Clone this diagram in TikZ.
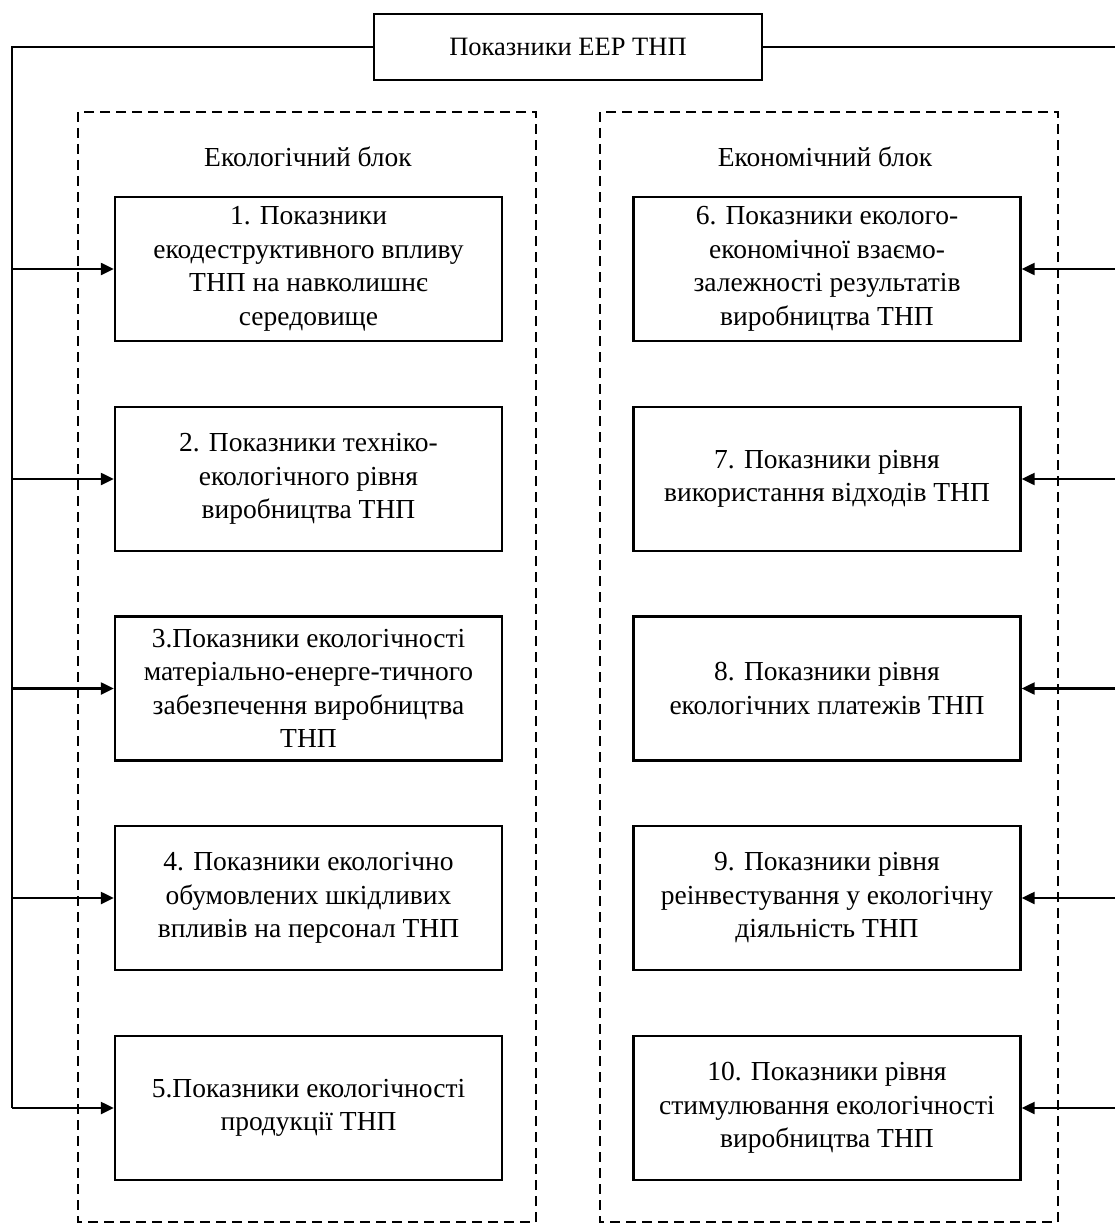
\documentclass[tikz,border=0pt]{standalone}
\usepackage{fontspec}
\setmainfont{Liberation Serif}
\usetikzlibrary{arrows.meta}
\begin{document}
\begin{tikzpicture}[x=1pt,y=-1pt,
  every node/.style={font=\fontsize{27.5}{33.5}\selectfont},
  ibox/.style={draw,line width=2.3pt,minimum width=387pt,minimum height=144pt,align=center,inner sep=0pt},
  topbox/.style={draw,line width=2.3pt,minimum width=388pt,minimum height=66pt,inner sep=0pt,font=\fontsize{26.5}{33}\selectfont},
  blockframe/.style={draw,line width=2.6pt,dash pattern=on 10pt off 6pt},
  conn/.style={line width=2.2pt},
  arr/.style={line width=2.2pt,-{Triangle[length=13pt,width=12pt]}}]
\useasboundingbox (0,0) rectangle (1114,1225);
\fill[white] (0,0) rectangle (1114,1225);
% dashed blocks
\draw[blockframe] (78,112) rectangle (536,1222);
\draw[blockframe] (600,112) rectangle (1058,1222);
\node (hl) at (308,157) {Екологічний блок};
\node (hr) at (825,157) {Економічний блок};
% top
\node[topbox] (top) at (568,47) {Показники ЕЕР ТНП};
% left boxes
\node[ibox] (b1) at (308.5,269) {1. Показники\\екодеструктивного впливу\\ТНП на навколишнє\\середовище};
\node[ibox] (b2) at (308.5,479) {2. Показники техніко-\\екологічного рівня\\виробництва ТНП};
\node[ibox] (b3) at (308.5,688.5) {3.Показники екологічності\\матеріально-енерге-тичного\\забезпечення виробництва\\ТНП};
\node[ibox] (b4) at (308.5,898) {4. Показники екологічно\\обумовлених шкідливих\\впливів на персонал ТНП};
\node[ibox] (b5) at (308.5,1108) {5.Показники екологічності\\продукції ТНП};
% right boxes
\node[ibox] (b6) at (827,269) {6. Показники еколого-\\економічної взаємо-\\залежності результатів\\виробництва ТНП};
\node[ibox] (b7) at (827,479) {7. Показники рівня\\використання відходів ТНП};
\node[ibox] (b8) at (827,688.5) {8. Показники рівня\\екологічних платежів ТНП};
\node[ibox] (b9) at (827,898) {9. Показники рівня\\реінвестування у екологічну\\діяльність ТНП};
\node[ibox] (b10) at (827,1108) {10. Показники рівня\\стимулювання екологічності\\виробництва ТНП};
% connectors
\coordinate (lt) at (12,47);
\coordinate (rt) at (1117,47);
\draw[conn] (top.west) -- (lt) -- (lt |- b5.west);
\draw[conn] (top.east) -- (rt) -- (rt |- b10.east);
\foreach \b in {b1,b2,b3,b4,b5}{\draw[arr] (lt |- \b.west) -- (\b.west);}
\foreach \b in {b6,b7,b8,b9,b10}{\draw[arr] (rt |- \b.east) -- (\b.east);}
\end{tikzpicture}
\end{document}
